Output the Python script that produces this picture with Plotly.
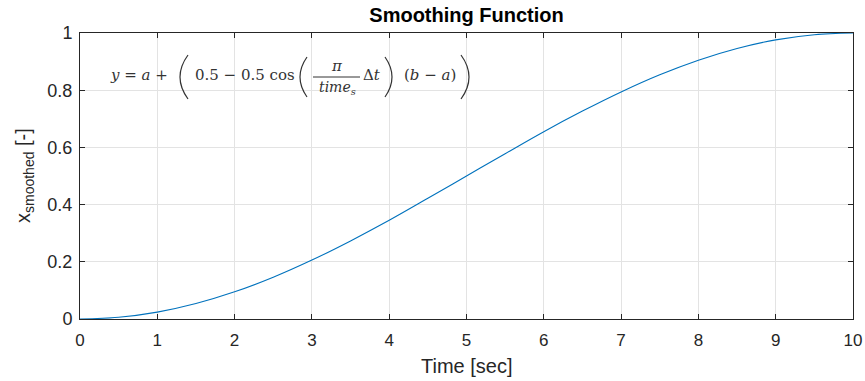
import plotly.graph_objects as go

# Data
time_sec = [0, 0.5, 1, 1.5, 2, 2.5, 3, 3.5, 4, 4.5, 5, 5.5, 6, 6.5, 7, 7.5, 8, 8.5, 9, 9.5, 10]
x_smoothed = [0, 0.006, 0.024, 0.054, 0.095, 0.146, 0.206, 0.273, 0.345, 0.422, 0.5,
              0.578, 0.655, 0.727, 0.794, 0.854, 0.905, 0.946, 0.976, 0.994, 1.0]
x_ticks = [0, 1, 2, 3, 4, 5, 6, 7, 8, 9, 10]
y_ticks = [0, 0.2, 0.4, 0.6, 0.8, 1]
y_tick_labels = ["0", "0.2", "0.4", "0.6", "0.8", "1"]

W, H = 865, 381
ML, MR, MT, MB = 80, 12, 33, 62
PW, PH = W - ML - MR, H - MT - MB
AX = "#262626"
EQ = "#333333"
SERIF = "DejaVu Serif"


def px(x):
    return (x - ML) / PW


def py(y):
    return (H - MB - y) / PH


fig = go.Figure()
fig.add_trace(go.Scatter(x=time_sec, y=x_smoothed, mode="lines",
                         line=dict(color="#0072BD", width=1.1, shape="spline"),
                         hoverinfo="skip", showlegend=False))

annotations = []


def txt(x, y, s, size=15, anchor="left"):
    annotations.append(dict(x=px(x), y=py(y), xref="paper", yref="paper", text=s,
                            showarrow=False, xanchor=anchor, yanchor="middle",
                            font=dict(family=SERIF, size=size, color=EQ)))


ey = 75
txt(108, ey, "<i>y</i> = <i>a</i> +")
txt(193, ey, "0.5 − 0.5 cos")
txt(337, 66, "<i>π</i>", size=15, anchor="center")
txt(337, 88, "<i>time</i><sub><i>s</i></sub>", size=14, anchor="center")
txt(361, ey, "Δ<i>t</i>")
txt(402, ey, "(<i>b</i> − <i>a</i>)")

# Y-axis title
annotations.append(dict(x=px(24), y=0.5, xref="paper", yref="paper",
                        text="x<sub>smoothed</sub> [-]", textangle=-90, showarrow=False,
                        xanchor="center", yanchor="middle",
                        font=dict(family="Liberation Sans, Arial, sans-serif", size=20, color=AX)))
# X-axis title
annotations.append(dict(x=0.5, y=py(366), xref="paper", yref="paper",
                        text="Time [sec]", showarrow=False,
                        xanchor="center", yanchor="middle",
                        font=dict(family="Liberation Sans, Arial, sans-serif", size=20, color=AX)))

shapes = []


def paren(xl, xr, top, bot, left=True):
    if left:
        x0, cx = xr, 2 * xl - xr
    else:
        x0, cx = xl, 2 * xr - xl
    mid = (top + bot) / 2
    path = f"M {px(x0)},{py(top)} Q {px(cx)},{py(mid)} {px(x0)},{py(bot)}"
    shapes.append(dict(type="path", path=path, xref="paper", yref="paper",
                       line=dict(color=EQ, width=1.2)))


paren(180, 188, 55, 99, left=True)
paren(300, 307, 57, 97, left=True)
paren(385, 392, 57, 97, left=False)
paren(461, 469, 55, 99, left=False)
shapes.append(dict(type="line", xref="paper", yref="paper",
                   x0=px(313), x1=px(360), y0=py(77), y1=py(77),
                   line=dict(color=EQ, width=1)))

fig.update_layout(
    width=W, height=H,
    margin=dict(l=ML, r=MR, t=MT, b=MB, autoexpand=False),
    paper_bgcolor="white", plot_bgcolor="white",
    font=dict(family="Liberation Sans, Arial, sans-serif", color=AX, size=17),
    title=dict(text="<b>Smoothing Function</b>", x=(ML + PW / 2) / W, xanchor="center",
               y=1 - 15 / H, yanchor="middle", font=dict(size=20, color="#000000")),
    annotations=annotations,
    shapes=shapes,
    xaxis=dict(range=[0, 10], tickvals=x_ticks, ticks="inside", ticklen=5, tickcolor=AX,
               showline=True, linecolor=AX, linewidth=1, mirror="allticks",
               showgrid=True, gridcolor="#e3e3e3", gridwidth=1, zeroline=False,
               automargin=False, ticklabelstandoff=6,
               tickfont=dict(size=17, color=AX)),
    yaxis=dict(range=[0, 1], tickvals=y_ticks, ticktext=y_tick_labels, ticks="inside",
               ticklen=5, tickcolor=AX, showline=True, linecolor=AX, linewidth=1,
               mirror="allticks", showgrid=True, gridcolor="#e3e3e3", gridwidth=1,
               zeroline=False, automargin=False, ticklabelstandoff=3,
               tickfont=dict(size=18, color=AX)),
)

fig.write_html("out.html")
